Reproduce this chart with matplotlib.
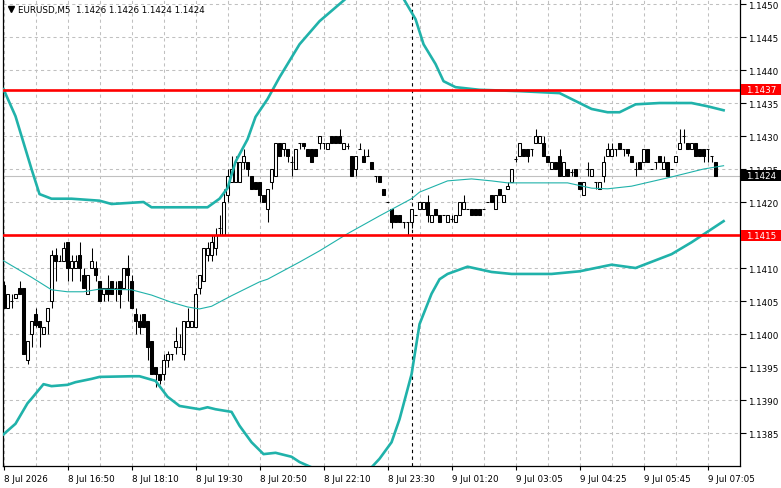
import matplotlib
matplotlib.use('Agg')
import matplotlib.pyplot as plt
import numpy as np
from matplotlib.patches import Rectangle
from matplotlib.lines import Line2D
from matplotlib.transforms import blended_transform_factory

# EURUSD M5, 8 Jul 15:30 .. 9 Jul 07:15
title = 'EURUSD,M5  1.1426 1.1426 1.1424 1.1424'
time_labels = ['8 Jul 2026', '8 Jul 16:50', '8 Jul 18:10', '8 Jul 19:30', '8 Jul 20:50',
               '8 Jul 22:10', '8 Jul 23:30', '9 Jul 01:20', '9 Jul 03:05', '9 Jul 04:25',
               '9 Jul 05:45', '9 Jul 07:05']
label_bars = [0, 16, 32, 48, 64, 80, 96, 112, 128, 144, 160, 176]

opens = [1.14075, 1.14040, 1.14050, 1.14055, 1.14070, 1.14070, 1.13960, 1.14000, 1.14030, 1.14020,
         1.14000, 1.14020, 1.14050, 1.14120, 1.14110, 1.14110, 1.14140, 1.14100, 1.14100, 1.14120,
         1.14090, 1.14060, 1.14100, 1.14100, 1.14080, 1.14060, 1.14070, 1.14080, 1.14070, 1.14080,
         1.14070, 1.14100, 1.14080, 1.14030, 1.14020, 1.14030, 1.14020, 1.13990, 1.13950, 1.13940,
         1.13940, 1.13960, 1.13970, 1.13980, 1.13980, 1.13970, 1.14010, 1.14010, 1.14010, 1.14070,
         1.14080, 1.14120, 1.14120, 1.14130, 1.14160, 1.14150, 1.14210, 1.14230, 1.14230, 1.14230,
         1.14260, 1.14260, 1.14240, 1.14230, 1.14230, 1.14210, 1.14190, 1.14230, 1.14240, 1.14290,
         1.14280, 1.14280, 1.14260, 1.14250, 1.14290, 1.14290, 1.14280, 1.14280, 1.14280, 1.14290,
         1.14290, 1.14280, 1.14300, 1.14300, 1.14300, 1.14280, 1.14285, 1.14270, 1.14250, 1.14280,
         1.14270, 1.14270, 1.14260, 1.14240, 1.14240, 1.14220, 1.14200, 1.14190, 1.14180, 1.14180,
         1.14170, 1.14170, 1.14170, 1.14180, 1.14190, 1.14190, 1.14200, 1.14170, 1.14190, 1.14180,
         1.14180, 1.14170, 1.14175, 1.14170, 1.14180, 1.14190, 1.14190, 1.14190, 1.14190, 1.14190,
         1.14190, 1.14200, 1.14210, 1.14190, 1.14220, 1.14200, 1.14220, 1.14230, 1.14265, 1.14270,
         1.14280, 1.14280, 1.14280, 1.14290, 1.14290, 1.14290, 1.14270, 1.14250, 1.14260, 1.14270,
         1.14240, 1.14250, 1.14245, 1.14250, 1.14230, 1.14210, 1.14250, 1.14240, 1.14230, 1.14220,
         1.14240, 1.14270, 1.14270, 1.14280, 1.14290, 1.14280, 1.14280, 1.14270, 1.14250, 1.14260,
         1.14260, 1.14280, 1.14250, 1.14260, 1.14270, 1.14250, 1.14260, 1.14250, 1.14260, 1.14280,
         1.14300, 1.14290, 1.14280, 1.14290, 1.14280, 1.14280, 1.14280, 1.14270, 1.14260]
highs = [1.14080, 1.14060, 1.14060, 1.14060, 1.14080, 1.14070, 1.13990, 1.14020, 1.14040, 1.14020,
         1.14010, 1.14040, 1.14128, 1.14130, 1.14120, 1.14140, 1.14140, 1.14120, 1.14120, 1.14140,
         1.14100, 1.14090, 1.14130, 1.14110, 1.14080, 1.14070, 1.14090, 1.14080, 1.14080, 1.14080,
         1.14100, 1.14120, 1.14090, 1.14040, 1.14030, 1.14030, 1.14020, 1.13990, 1.13950, 1.13940,
         1.13970, 1.13975, 1.13970, 1.14010, 1.14000, 1.14020, 1.14040, 1.14020, 1.14070, 1.14090,
         1.14130, 1.14140, 1.14150, 1.14160, 1.14180, 1.14220, 1.14250, 1.14270, 1.14270, 1.14260,
         1.14280, 1.14260, 1.14240, 1.14230, 1.14230, 1.14210, 1.14220, 1.14250, 1.14290, 1.14290,
         1.14290, 1.14280, 1.14270, 1.14280, 1.14290, 1.14290, 1.14280, 1.14280, 1.14280, 1.14300,
         1.14290, 1.14290, 1.14300, 1.14300, 1.14310, 1.14290, 1.14290, 1.14270, 1.14270, 1.14290,
         1.14280, 1.14280, 1.14260, 1.14240, 1.14240, 1.14220, 1.14200, 1.14190, 1.14180, 1.14180,
         1.14170, 1.14170, 1.14190, 1.14180, 1.14200, 1.14200, 1.14210, 1.14180, 1.14190, 1.14180,
         1.14180, 1.14180, 1.14180, 1.14180, 1.14200, 1.14210, 1.14190, 1.14190, 1.14190, 1.14190,
         1.14190, 1.14200, 1.14210, 1.14210, 1.14220, 1.14210, 1.14230, 1.14250, 1.14270, 1.14290,
         1.14280, 1.14280, 1.14280, 1.14310, 1.14300, 1.14300, 1.14270, 1.14260, 1.14260, 1.14280,
         1.14260, 1.14250, 1.14250, 1.14250, 1.14230, 1.14230, 1.14260, 1.14250, 1.14230, 1.14230,
         1.14270, 1.14290, 1.14290, 1.14280, 1.14290, 1.14280, 1.14280, 1.14270, 1.14260, 1.14260,
         1.14280, 1.14280, 1.14250, 1.14260, 1.14270, 1.14270, 1.14260, 1.14250, 1.14270, 1.14310,
         1.14310, 1.14290, 1.14290, 1.14290, 1.14280, 1.14280, 1.14280, 1.14270, 1.14260]
lows = [1.14040, 1.14040, 1.14040, 1.14055, 1.14060, 1.13970, 1.13955, 1.13980, 1.14010, 1.13980,
        1.14000, 1.14000, 1.14040, 1.14080, 1.14110, 1.14110, 1.14080, 1.14080, 1.14100, 1.14080,
        1.14070, 1.14060, 1.14100, 1.14080, 1.14050, 1.14050, 1.14050, 1.14060, 1.14050, 1.14040,
        1.14070, 1.14050, 1.14040, 1.14000, 1.14000, 1.14010, 1.13960, 1.13940, 1.13920, 1.13925,
        1.13930, 1.13950, 1.13960, 1.13970, 1.13980, 1.13960, 1.14010, 1.14010, 1.14010, 1.14060,
        1.14080, 1.14110, 1.14110, 1.14120, 1.14150, 1.14150, 1.14200, 1.14230, 1.14230, 1.14230,
        1.14250, 1.14240, 1.14220, 1.14220, 1.14200, 1.14200, 1.14170, 1.14220, 1.14240, 1.14270,
        1.14270, 1.14260, 1.14240, 1.14250, 1.14280, 1.14280, 1.14270, 1.14260, 1.14270, 1.14280,
        1.14280, 1.14280, 1.14290, 1.14290, 1.14290, 1.14280, 1.14280, 1.14240, 1.14240, 1.14280,
        1.14260, 1.14270, 1.14250, 1.14230, 1.14230, 1.14210, 1.14200, 1.14160, 1.14170, 1.14170,
        1.14160, 1.14150, 1.14160, 1.14180, 1.14190, 1.14190, 1.14170, 1.14170, 1.14180, 1.14170,
        1.14180, 1.14170, 1.14170, 1.14170, 1.14180, 1.14190, 1.14190, 1.14180, 1.14180, 1.14180,
        1.14190, 1.14200, 1.14200, 1.14190, 1.14210, 1.14200, 1.14220, 1.14230, 1.14260, 1.14270,
        1.14270, 1.14260, 1.14270, 1.14290, 1.14290, 1.14270, 1.14260, 1.14250, 1.14250, 1.14240,
        1.14240, 1.14240, 1.14240, 1.14240, 1.14220, 1.14210, 1.14240, 1.14240, 1.14220, 1.14220,
        1.14230, 1.14270, 1.14270, 1.14270, 1.14280, 1.14270, 1.14270, 1.14260, 1.14240, 1.14250,
        1.14260, 1.14260, 1.14250, 1.14250, 1.14260, 1.14250, 1.14240, 1.14250, 1.14260, 1.14280,
        1.14290, 1.14280, 1.14280, 1.14270, 1.14270, 1.14260, 1.14260, 1.14260, 1.14240]
closes = [1.14040, 1.14060, 1.14050, 1.14060, 1.14060, 1.13970, 1.13990, 1.14020, 1.14013, 1.14010,
          1.14010, 1.14040, 1.14120, 1.14110, 1.14110, 1.14130, 1.14100, 1.14110, 1.14110, 1.14100,
          1.14070, 1.14090, 1.14110, 1.14090, 1.14050, 1.14070, 1.14060, 1.14060, 1.14070, 1.14060,
          1.14100, 1.14090, 1.14040, 1.14020, 1.14010, 1.14010, 1.13980, 1.13940, 1.13940, 1.13930,
          1.13960, 1.13970, 1.13970, 1.13990, 1.13980, 1.14020, 1.14020, 1.14020, 1.14060, 1.14090,
          1.14130, 1.14130, 1.14140, 1.14150, 1.14160, 1.14200, 1.14240, 1.14250, 1.14260, 1.14260,
          1.14270, 1.14250, 1.14220, 1.14220, 1.14210, 1.14200, 1.14220, 1.14250, 1.14290, 1.14270,
          1.14290, 1.14270, 1.14260, 1.14280, 1.14290, 1.14285, 1.14270, 1.14260, 1.14270, 1.14300,
          1.14290, 1.14290, 1.14290, 1.14290, 1.14290, 1.14290, 1.14285, 1.14240, 1.14270, 1.14280,
          1.14260, 1.14270, 1.14250, 1.14240, 1.14230, 1.14210, 1.14200, 1.14170, 1.14170, 1.14170,
          1.14170, 1.14170, 1.14190, 1.14180, 1.14200, 1.14200, 1.14180, 1.14180, 1.14180, 1.14170,
          1.14180, 1.14180, 1.14175, 1.14180, 1.14200, 1.14200, 1.14190, 1.14180, 1.14180, 1.14180,
          1.14190, 1.14200, 1.14200, 1.14210, 1.14210, 1.14210, 1.14225, 1.14250, 1.14265, 1.14290,
          1.14270, 1.14270, 1.14280, 1.14300, 1.14300, 1.14270, 1.14260, 1.14260, 1.14250, 1.14240,
          1.14260, 1.14240, 1.14245, 1.14240, 1.14220, 1.14230, 1.14250, 1.14250, 1.14230, 1.14230,
          1.14260, 1.14280, 1.14280, 1.14280, 1.14280, 1.14280, 1.14275, 1.14260, 1.14250, 1.14250,
          1.14280, 1.14260, 1.14250, 1.14260, 1.14260, 1.14260, 1.14240, 1.14250, 1.14270, 1.14290,
          1.14300, 1.14280, 1.14290, 1.14270, 1.14270, 1.14270, 1.14280, 1.14270, 1.14240]

# Bollinger bands (bar index, price)
upper_bar = [0, 3, 7, 9, 12, 17, 24, 27, 35, 37, 46, 51, 54, 56, 58, 61, 63, 66, 69, 74,
             79, 84, 89, 94, 99, 100, 103, 105, 108, 110, 113, 119, 129, 139, 143, 147, 151,
             154, 158, 164, 172, 176, 180]
upper_val = [1.14371, 1.14330, 1.14250, 1.14212, 1.14205, 1.14205, 1.14202, 1.14197, 1.14200,
             1.14192, 1.14192, 1.14192, 1.14205, 1.14221, 1.14261, 1.14295, 1.14329, 1.14356,
             1.14389, 1.14439, 1.14474, 1.14500, 1.14526, 1.14530, 1.14515, 1.14508, 1.14477,
             1.14439, 1.14409, 1.14383, 1.14374, 1.14370, 1.14368, 1.14365, 1.14353, 1.14341,
             1.14336, 1.14336, 1.14348, 1.14350, 1.14350, 1.14345, 1.14339]
middle_bar = [0, 7, 12, 16, 20, 24, 32, 37, 42, 46, 49, 52, 57, 64, 66, 74, 79, 86, 94, 102,
              104, 111, 117, 122, 126, 136, 141, 147, 151, 157, 167, 175, 180]
middle_val = [1.14111, 1.14086, 1.14067, 1.14064, 1.14064, 1.14068, 1.14067, 1.14059, 1.14048,
              1.14041, 1.14038, 1.14042, 1.14058, 1.14079, 1.14083, 1.14109, 1.14126, 1.14152,
              1.14179, 1.14205, 1.14215, 1.14232, 1.14235, 1.14232, 1.14229, 1.14229, 1.14229,
              1.14221, 1.14220, 1.14224, 1.14238, 1.14250, 1.14255]
lower_bar = [0, 3, 6, 7, 10, 12, 16, 18, 22, 24, 32, 34, 38, 41, 44, 49, 51, 53, 57, 59, 62,
             65, 68, 72, 74, 77, 84, 92, 94, 97, 99, 102, 104, 107, 109, 111, 116, 122, 127,
             137, 144, 152, 158, 164, 167, 172, 176, 180]
lower_val = [1.13848, 1.13864, 1.13895, 1.13902, 1.13924, 1.13921, 1.13923, 1.13927, 1.13932,
             1.13935, 1.13936, 1.13936, 1.13929, 1.13905, 1.13891, 1.13886, 1.13889, 1.13886,
             1.13882, 1.13861, 1.13836, 1.13818, 1.13820, 1.13814, 1.13806, 1.13798, 1.13780,
             1.13798, 1.13811, 1.13836, 1.13871, 1.13939, 1.14015, 1.14061, 1.14083, 1.14091,
             1.14102, 1.14094, 1.14091, 1.14091, 1.14095, 1.14105, 1.14100, 1.14114, 1.14121,
             1.14139, 1.14155, 1.14171]

levels = [1.1437, 1.1415]
last_price = 1.1424
separator_bar = 102

W, H = 781, 489
fig = plt.figure(figsize=(W / 100, H / 100), dpi=100)
fig.patch.set_facecolor('white')
ax = fig.add_axes([3 / W, 22 / H, 737 / W, 467 / H])

n = len(closes)
x = np.arange(n)
o = np.array(opens)
c = np.array(closes)
up = c >= o

ax.vlines(x, lows, highs, color='black', linewidth=0.75, zorder=3)
bottoms = np.minimum(o, c)
heights = np.abs(c - o)
ax.bar(x[up], heights[up], bottom=bottoms[up], width=0.55, facecolor='white',
       edgecolor='black', linewidth=0.75, zorder=4)
ax.bar(x[~up], heights[~up], bottom=bottoms[~up], width=0.55, facecolor='black',
       edgecolor='black', linewidth=0.75, zorder=4)

teal = '#20b2aa'
ax.plot(upper_bar, upper_val, color=teal, linewidth=1.9, zorder=5)
ax.plot(lower_bar, lower_val, color=teal, linewidth=1.9, zorder=5)
ax.plot(middle_bar, middle_val, color=teal, linewidth=0.8, zorder=5)

for lv in levels:
    ax.axhline(lv, color='red', linewidth=1.9, zorder=6)
ax.axhline(last_price, color='#c0c0c0', linewidth=0.8, zorder=2)
ax.axvline(separator_bar, color='black', linewidth=0.8, linestyle=(0, (3, 3)), zorder=2)

ax.set_xlim(-0.125, 184.1)
ax.set_ylim(1.13800, 1.145076)

yt = np.arange(1.1385, 1.14501, 0.0005)
ax.yaxis.tick_right()
ax.set_yticks(yt)
# the 1.1415 scale label sits fully under the red level tag
ax.set_yticklabels(['' if abs(v - levels[1]) < 1e-6 else f'{v:.4f}' for v in yt])
ax.set_xticks(label_bars)
ax.set_xticklabels(time_labels, ha='left')
ax.set_xticks(np.arange(8, 184, 16), minor=True)
ax.tick_params(axis='y', which='major', length=4, width=0.8, pad=2, labelsize=6.3)
ax.tick_params(axis='x', which='major', length=3, width=0.8, pad=3, labelsize=6.3)
ax.tick_params(axis='x', which='minor', length=0)
ax.grid(True, which='both', color='#c0c0c0', linestyle=(0, (3, 3)), linewidth=0.75, zorder=0)
ax.set_axisbelow(True)
ax.spines['top'].set_visible(False)
for s in ['left', 'right', 'bottom']:
    ax.spines[s].set_linewidth(0.9)

# price tags on the right scale
tr = blended_transform_factory(fig.transFigure, ax.transData)
tag_h = 11 / 66000
for lv, bg in [(levels[0], 'red'), (levels[1], 'red'), (last_price, 'black')]:
    ax.add_patch(Rectangle((741 / W, lv - tag_h / 2), 40 / W, tag_h, transform=tr,
                           facecolor=bg, edgecolor='none', clip_on=False, zorder=10))
    ax.text(746 / W, lv, f'{lv:.4f}', transform=tr, color='white', fontsize=6.3,
            va='center', ha='left', zorder=11, clip_on=False)

fig.add_artist(Line2D([10.5 / W], [1 - 10 / H], marker='v', markersize=4.5,
                      color='black', transform=fig.transFigure))
fig.text(18 / W, 1 - 10 / H, title, fontsize=6.3, va='center', ha='left')

fig.savefig('out.png', dpi=100)
